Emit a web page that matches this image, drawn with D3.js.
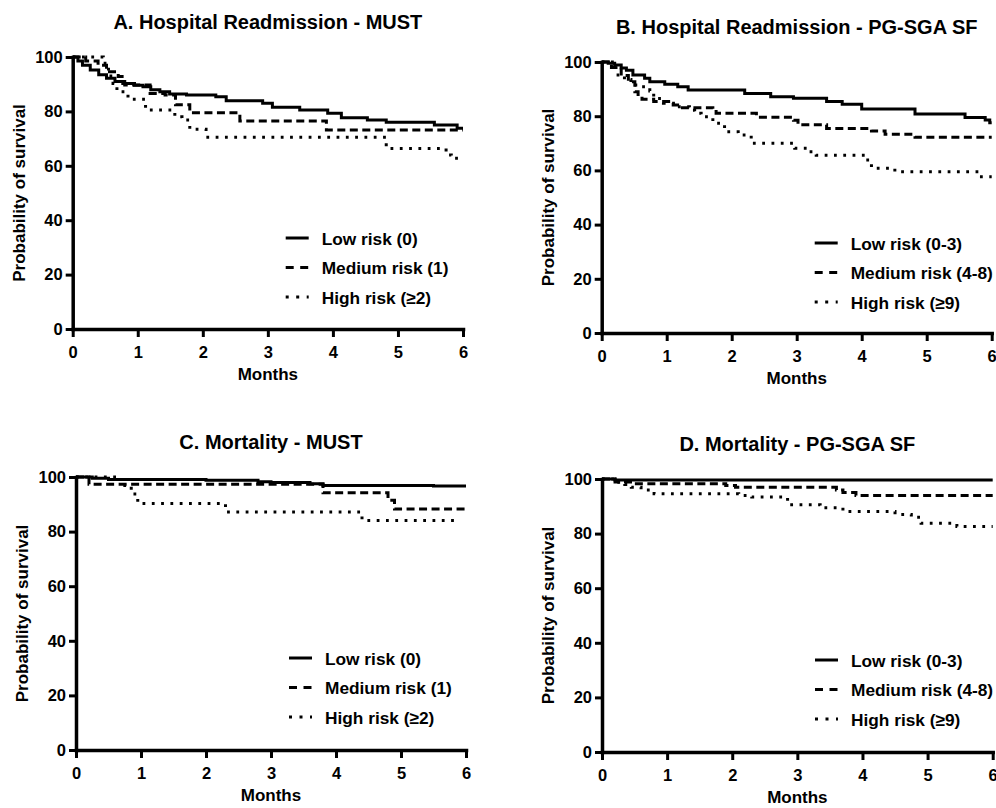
<!DOCTYPE html>
<html>
<head>
<meta charset="utf-8">
<script src="https://cdn.jsdelivr.net/npm/d3@7"></script>
<style>
body { margin: 0; background: #fff; }
svg text { font-family: "Liberation Sans", Arial, sans-serif; font-weight: bold; fill: #000; }
</style>
</head>
<body>
<div id="chart"></div>
<script>
// Kaplan-Meier curves: [month, probability of survival %]
var lowA = [[0,100],[0.08,98.5],[0.15,97],[0.27,95.2],[0.4,93.5],[0.52,92.2],[0.65,91],[0.77,90.3],[0.95,89.6],[1.08,89.1],[1.2,88],[1.34,87.2],[1.49,86.4],[1.75,86],[2.2,85.4],[2.36,83.9],[2.92,83],[3.07,81.5],[3.49,80.5],[3.92,79.3],[4.13,77.7],[4.53,76.8],[4.82,76],[5.56,75],[5.91,73.8],[6,73.8]];
var medA = [[0,100],[0.2,98.5],[0.39,97],[0.52,94.6],[0.7,92.8],[0.8,89.7],[1.19,86.6],[1.42,86],[1.58,82.4],[1.8,79.5],[2.57,76.5],[3.9,73.2],[6,73.2]];
var highA = [[0,100],[0.47,97.7],[0.55,93],[0.62,90.3],[0.68,87.2],[0.85,84.5],[1.12,80.5],[1.57,78],[1.68,76.8],[1.8,73.4],[2.05,70.5],[4.82,66.4],[5.74,64],[5.82,62.8],[6,62.8]];

var lowB = [[0,100],[0.1,99.5],[0.2,98.9],[0.3,97.8],[0.38,97],[0.48,95.2],[0.66,94],[0.74,92.7],[0.97,91.8],[1.17,90.9],[1.33,89.7],[2.2,88.4],[2.6,87.2],[2.95,86.6],[3.46,85.4],[3.7,84.4],[4.0,82.7],[4.82,80.8],[5.59,79.5],[5.9,78.6],[5.97,77.6],[6,77.6]];
var medB = [[0,100],[0.15,98],[0.3,95],[0.41,92.7],[0.51,89],[0.56,87.2],[0.62,86.3],[0.8,85.4],[1.1,84.1],[1.2,83.1],[1.71,82.3],[1.76,81.1],[2.38,79.6],[2.95,78.5],[3.02,76.8],[3.46,75.5],[4.15,74.5],[4.36,73.3],[4.82,72.2],[6,72.2]];
var highB = [[0,100],[0.22,95.2],[0.35,93.5],[0.45,91.5],[0.56,90.9],[0.74,89.3],[0.8,86.5],[0.95,84.8],[1.17,83.5],[1.35,82.2],[1.43,81.1],[1.53,79.8],[1.71,77.4],[1.89,74.3],[2.1,73.1],[2.3,70],[2.97,68.2],[3.18,66.9],[3.3,65.6],[4.05,63.8],[4.15,60.8],[4.51,59.5],[5.8,57.7],[6,57.7]];

var lowC = [[0,100],[0.25,99.5],[0.5,99.1],[2.0,98.8],[2.8,98.3],[3.0,98],[3.6,97.5],[3.8,96.9],[5.5,96.7],[6,96.7]];
var medC = [[0,100],[0.2,97.3],[3.8,94.2],[4.8,91.5],[4.9,88.3],[6,88.3]];
var highC = [[0,100],[0.7,96.9],[0.85,93.8],[0.95,90.3],[2.3,87.2],[4.4,84.1],[5.9,84.1]];

var lowD = [[0,100],[0.2,99.6],[6,99.6]];
var medD = [[0,100],[0.2,98.9],[0.5,98.3],[1.9,97.6],[2.05,97],[3.6,96],[3.7,95.1],[3.9,94],[6,94]];
var highD = [[0,100],[0.2,98.8],[0.35,98],[0.45,97],[0.6,96],[0.8,94.6],[2.1,94],[2.3,93.4],[2.85,90.6],[3.35,89.5],[3.7,88.1],[4.5,87],[4.75,86],[4.9,83.8],[5.45,82.6],[6,82.6]];

var titles = ["A. Hospital Readmission - MUST", "B. Hospital Readmission - PG-SGA SF",
              "C. Mortality - MUST", "D. Mortality - PG-SGA SF"];
var mustLabels = ["Low risk (0)", "Medium risk (1)", "High risk (\u22652)"];
var pgLabels = ["Low risk (0-3)", "Medium risk (4-8)", "High risk (\u22659)"];
var xTicks = [0, 1, 2, 3, 4, 5, 6];
var yTicks = [0, 20, 40, 60, 80, 100];

var width = 996, height = 808;

var svg = d3.select("#chart")
    .append("svg")
    .attr("width", width)
    .attr("height", height);

// plot boxes in pixels
var panels = [
    {title: titles[0], left: 72.7, right: 463, top: 57, bottom: 329, series: [lowA, medA, highA], labels: mustLabels},
    {title: titles[1], left: 601.7, right: 991.7, top: 62, bottom: 333, series: [lowB, medB, highB], labels: pgLabels},
    {title: titles[2], left: 76, right: 466, top: 477, bottom: 750, series: [lowC, medC, highC], labels: mustLabels},
    {title: titles[3], left: 602, right: 992.7, top: 479, bottom: 752, series: [lowD, medD, highD], labels: pgLabels}
];

// solid / dashed / dotted
var lineDash = [null, "8,4.5", "2.8,6.5"];
var legendDash = [null, "8,6.5", "3,7.5"];

panels.forEach(function (p) {
    var x = d3.scaleLinear().domain([0, 6]).range([p.left, p.right]);
    var y = d3.scaleLinear().domain([0, 100]).range([p.bottom, p.top]);
    var cx = (p.left + p.right) / 2;
    var g = svg.append("g");

    // title
    g.append("text")
        .attr("x", cx)
        .attr("y", p.top - 28)
        .attr("text-anchor", "middle")
        .style("font-size", "20px")
        .text(p.title);

    var line = d3.line()
        .x(function (d) { return x(d[0]); })
        .y(function (d) { return y(d[1]); })
        .curve(d3.curveStepAfter);

    p.series.forEach(function (s, i) {
        g.append("path")
            .datum(s)
            .attr("d", line)
            .attr("fill", "none")
            .attr("stroke", "#000")
            .attr("stroke-width", 3)
            .attr("stroke-dasharray", lineDash[i]);
    });

    // axes
    var xAxis = g.append("g")
        .attr("transform", "translate(0," + p.bottom + ")")
        .call(d3.axisBottom(x).tickValues(xTicks).tickFormat(d3.format("d"))
            .tickSize(8).tickSizeOuter(0).tickPadding(9));
    var yAxis = g.append("g")
        .attr("transform", "translate(" + p.left + ",0)")
        .call(d3.axisLeft(y).tickValues(yTicks).tickFormat(d3.format("d"))
            .tickSize(7).tickSizeOuter(0).tickPadding(3));

    [xAxis, yAxis].forEach(function (a) {
        a.select(".domain").attr("stroke-width", 3.5).attr("stroke-linecap", "square");
        a.selectAll(".tick line").attr("stroke-width", 3);
        a.selectAll(".tick text")
            .style("font-size", "16.5px")
            .style("font-family", "'Liberation Sans', Arial, sans-serif")
            .style("font-weight", "bold");
    });

    // axis titles
    g.append("text")
        .attr("x", cx)
        .attr("y", p.bottom + 51)
        .attr("text-anchor", "middle")
        .style("font-size", "17px")
        .text("Months");

    g.append("text")
        .attr("transform", "translate(" + (p.left - 48) + "," + ((p.top + p.bottom) / 2) + ")rotate(-90)")
        .attr("text-anchor", "middle")
        .style("font-size", "17px")
        .text("Probability of survival");

    // legend
    p.labels.forEach(function (lab, i) {
        var ly = p.top + 181 + i * 29.5;
        g.append("line")
            .attr("x1", p.left + 213)
            .attr("x2", p.left + 236)
            .attr("y1", ly)
            .attr("y2", ly)
            .attr("stroke", "#000")
            .attr("stroke-width", 3)
            .attr("stroke-dasharray", legendDash[i]);
        g.append("text")
            .attr("x", p.left + 249)
            .attr("y", ly + 6.5)
            .style("font-size", "17.3px")
            .text(lab);
    });
});
</script>
</body>
</html>
